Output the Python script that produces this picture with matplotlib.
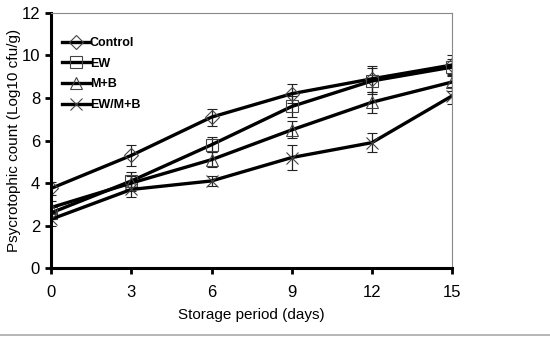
import numpy as np
import matplotlib
matplotlib.use("Agg")
import matplotlib.pyplot as plt
from matplotlib.lines import Line2D

plt.rcParams['font.family'] = ['Liberation Sans', 'DejaVu Sans']

days = [0, 3, 6, 9, 12, 15]

control = [3.75, 5.3, 7.1, 8.2, 8.9, 9.55]
control_err = [0.3, 0.5, 0.4, 0.45, 0.6, 0.45]

ew = [2.6, 4.1, 5.8, 7.6, 8.8, 9.45]
ew_err = [0.3, 0.4, 0.35, 0.5, 0.6, 0.4]

mb = [2.85, 4.0, 5.1, 6.5, 7.8, 8.75]
mb_err = [0.3, 0.35, 0.35, 0.4, 0.5, 0.4]

ewmb = [2.3, 3.7, 4.1, 5.2, 5.9, 8.1]
ewmb_err = [0.3, 0.35, 0.25, 0.6, 0.45, 0.4]

series = [
    ("Control", control, control_err, "D"),
    ("EW", ew, ew_err, "s"),
    ("M+B", mb, mb_err, "^"),
    ("EW/M+B", ewmb, ewmb_err, "x"),
]

fig = plt.figure(figsize=(5.5, 3.39), dpi=100)
ax = fig.add_axes([0.093, 0.209, 0.729, 0.753])

for name, vals, err, mk in series:
    ms = 7 if mk == "D" else 8
    ax.errorbar(days, vals, yerr=err, color="black", lw=2.4,
                marker=mk, ms=ms, mfc="none", mec="#444444", mew=0.8,
                ecolor="#222222", elinewidth=0.9, capsize=3.5, capthick=0.9,
                label=name)

ax.set_xlim(0, 15)
ax.set_ylim(0, 12)
ax.set_xticks(days)
ax.set_yticks([0, 2, 4, 6, 8, 10, 12])
ax.tick_params(axis="both", labelsize=12, width=2, length=4, direction="out")
ax.tick_params(axis="x", pad=8)
ax.tick_params(axis="y", pad=4)

ax.spines["left"].set_linewidth(2.2)
ax.spines["bottom"].set_linewidth(2.2)
ax.spines["top"].set_linewidth(0.8)
ax.spines["right"].set_linewidth(0.8)
ax.spines["top"].set_color("#888888")
ax.spines["right"].set_color("#888888")

ax.set_xlabel("Storage period (days)", fontsize=11)
ax.set_ylabel("Psycrotophic count (Log10 cfu/g)", fontsize=11)
ax.xaxis.set_label_coords(0.5, -0.155)
ax.yaxis.set_label_coords(-0.075, 0.5)

handles = [Line2D([], [], color="black", lw=2.4, marker=mk,
                  ms=7 if mk == "D" else 8, mfc="none", mec="#444444", mew=0.8)
           for _, _, _, mk in series]
ax.legend(handles, [s[0] for s in series], loc="upper left",
          bbox_to_anchor=(0.0, 0.95), frameon=False,
          handlelength=2.2, handletextpad=0.0, labelspacing=0.7,
          prop={"weight": "bold", "size": 9})

fig.add_artist(Line2D([0, 1], [0.012, 0.012], color="#aaaaaa", lw=1.2,
                      transform=fig.transFigure))

fig.savefig("out.png", dpi=100)
